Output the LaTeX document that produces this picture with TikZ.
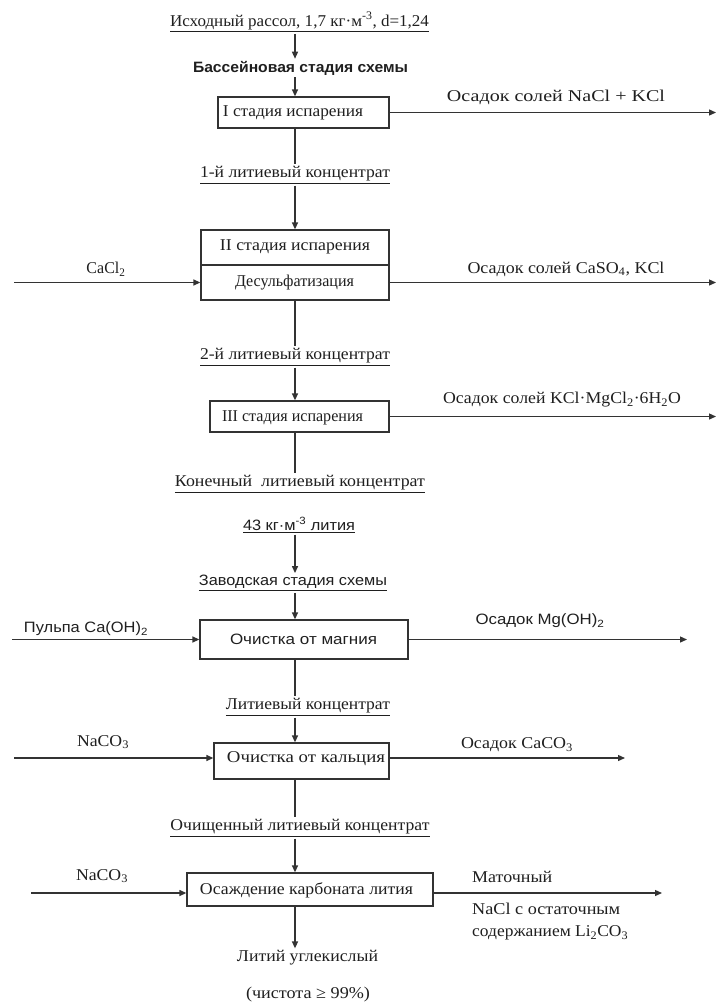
\documentclass[tikz,border=0pt]{standalone}
\usepackage{fontspec}
\setmainfont{Liberation Serif}
\newfontfamily\arialf{Liberation Sans}
\usetikzlibrary{arrows.meta}
\newcommand\fitw[2]{\resizebox{#1pt}{\height}{#2}}
\begin{document}
\begin{tikzpicture}[x=1pt,y=-1pt,
  lbl/.style={font=\fontsize{16.5}{19}\selectfont, inner sep=2pt, text=black!88},
  albl/.style={lbl, font=\arialf\fontsize{15}{18}\selectfont},
  box/.style={draw=black!80, line width=1.3pt, inner sep=0pt},
  ln/.style={draw=black!80, line width=1.3pt},
  arr/.style={ln, -{Triangle[length=7pt,width=6pt]}}]
\fill[white] (0,0) rectangle (719,1004);
\useasboundingbox (0,0) rectangle (719,1004);
\coordinate (mx) at (295,0);

% top
\node[lbl] (src) at (299.5,22) {\fitw{259}{\underline{Исходный рассол, 1,7 кг·м\textsuperscript{-3}, d=1,24}}};
\node[lbl, font=\arialf\bfseries\fontsize{15}{18}\selectfont] (pool) at (300.5,68) {\fitw{215}{Бассейновая стадия схемы}};

% stage I
\node[box, minimum width=171pt, minimum height=31pt] (b1) at (303.5,112.5) {};
\node[lbl] (t1) at (293,113) {\fitw{140}{I стадия испарения}};
\coordinate (o1) at (716,112.5);
\node[lbl] (l1) at (556,97) {\fitw{218}{Осадок солей NaCl + KCl}};
\node[lbl] (c1) at (295,175) {\fitw{190}{\underline{1-й литиевый концентрат}}};

% stage II
\node[box, minimum width=188pt, minimum height=35pt] (b2a) at (295,247.5) {};
\node[box, minimum width=188pt, minimum height=35pt] (b2b) at (295,282.5) {};
\node[lbl] (t2a) at (295,247) {\fitw{150}{II стадия испарения}};
\node[lbl] (t2b) at (294.5,283) {\fitw{119}{Десульфатизация}};
\coordinate (i2) at (14,282.5);
\node[lbl] (li2) at (106,269) {\fitw{39}{CaCl\textsubscript{2}}};
\coordinate (o2) at (716,282.5);
\node[lbl] (l2) at (566,269) {\fitw{197}{Осадок солей CaSO\textsubscript{4}, KCl}};
\node[lbl] (c2) at (295,357) {\fitw{190}{\underline{2-й литиевый концентрат}}};

% stage III
\node[box, minimum width=179pt, minimum height=31pt] (b3) at (299.5,416.5) {};
\node[lbl] (t3) at (292.5,418) {\fitw{141}{III стадия испарения}};
\coordinate (o3) at (716,416.5);
\node[lbl] (l3) at (562,400) {\fitw{238}{Осадок солей KCl·MgCl\textsubscript{2}·6H\textsubscript{2}O}};
\node[lbl] (c3) at (300,484) {\fitw{250}{\underline{Конечный\ \ литиевый концентрат}}};
\node[albl] (c3b) at (299,525) {\fitw{112}{\underline{43 кг·м\textsuperscript{-3} лития}}};
\node[albl] (plant) at (293,583) {\fitw{188}{\underline{Заводская стадия схемы}}};

% Mg
\node[box, minimum width=208pt, minimum height=39pt] (b4) at (304,639.5) {};
\node[albl] (t4) at (303.5,639) {\fitw{147}{Очистка от магния}};
\coordinate (i4) at (12,639.5);
\node[albl] (li4) at (86,629) {\fitw{124}{Пульпа Ca(OH)\textsubscript{2}}};
\coordinate (o4) at (687,639.5);
\node[albl] (l4) at (540,621) {\fitw{129}{Осадок Mg(OH)\textsubscript{2}}};
\node[lbl] (c4) at (308,707) {\fitw{164}{\underline{Литиевый концентрат}}};

% Ca
\node[box, minimum width=175pt, minimum height=36pt] (b5) at (301.5,761) {};
\node[lbl] (t5) at (306,759) {\fitw{158}{Очистка от кальция}};
\coordinate (i5) at (14,758);
\node[lbl] (li5) at (103,742) {\fitw{52}{NaCO\textsubscript{3}}};
\coordinate (o5) at (625,758);
\node[lbl] (l5) at (517,745) {\fitw{112}{Осадок CaCO\textsubscript{3}}};
\node[lbl] (c5) at (300,828) {\fitw{259}{\underline{Очищенный литиевый концентрат}}};

% Li2CO3
\node[box, minimum width=246pt, minimum height=33pt] (b6) at (310,889.5) {};
\node[lbl] (t6) at (306.5,890) {\fitw{213}{Осаждение карбоната лития}};
\coordinate (i6) at (31,893);
\node[lbl] (li6) at (102,876) {\fitw{52}{NaCO\textsubscript{3}}};
\coordinate (o6) at (662,893);
\node[lbl, anchor=west] (l6a) at (470,877) {\fitw{80}{Маточный}};
\node[lbl, anchor=west] (l6b) at (470,909) {\fitw{148}{NaCl с остаточным}};
\node[lbl, anchor=west] (l6c) at (470,933) {\fitw{156}{содержанием Li\textsubscript{2}CO\textsubscript{3}}};
\node[lbl] (prod) at (307.5,958) {\fitw{141}{Литий углекислый}};
\node[lbl] (pur) at (308,995) {\fitw{124}{(чистота ≥ 99\%)}};

% connectors
\draw[arr] (src.south -| mx) -- (pool.north -| mx);
\draw[arr] (pool.south -| mx) -- (b1.north -| mx);
\draw[arr] (b1.east) -- (o1);
\draw[ln] (b1.south -| mx) -- (c1.north -| mx);
\draw[arr] (c1.south -| mx) -- (b2a.north -| mx);
\draw[arr] (i2) -- (b2b.west);
\draw[arr] (b2b.east) -- (o2);
\draw[ln] (b2b.south -| mx) -- (c2.north -| mx);
\draw[arr] (c2.south -| mx) -- (b3.north -| mx);
\draw[arr] (b3.east) -- (o3);
\draw[ln] (b3.south -| mx) -- (c3.north -| mx);
\draw[arr] (c3b.south -| mx) -- (plant.north -| mx);
\draw[arr] (plant.south -| mx) -- (b4.north -| mx);
\draw[arr] (i4) -- (b4.west);
\draw[arr] (b4.east) -- (o4);
\draw[ln] (b4.south -| mx) -- (c4.north -| mx);
\draw[arr] (c4.south -| mx) -- (b5.north -| mx);
\draw[arr] (i5) -- (i5 -| b5.west);
\draw[arr] (b5.east |- o5) -- (o5);
\draw[ln] (b5.south -| mx) -- (c5.north -| mx);
\draw[arr] (c5.south -| mx) -- (b6.north -| mx);
\draw[arr] (i6) -- (i6 -| b6.west);
\draw[arr] (b6.east |- o6) -- (o6);
\draw[arr] (b6.south -| mx) -- (prod.north -| mx);
\end{tikzpicture}
\end{document}
